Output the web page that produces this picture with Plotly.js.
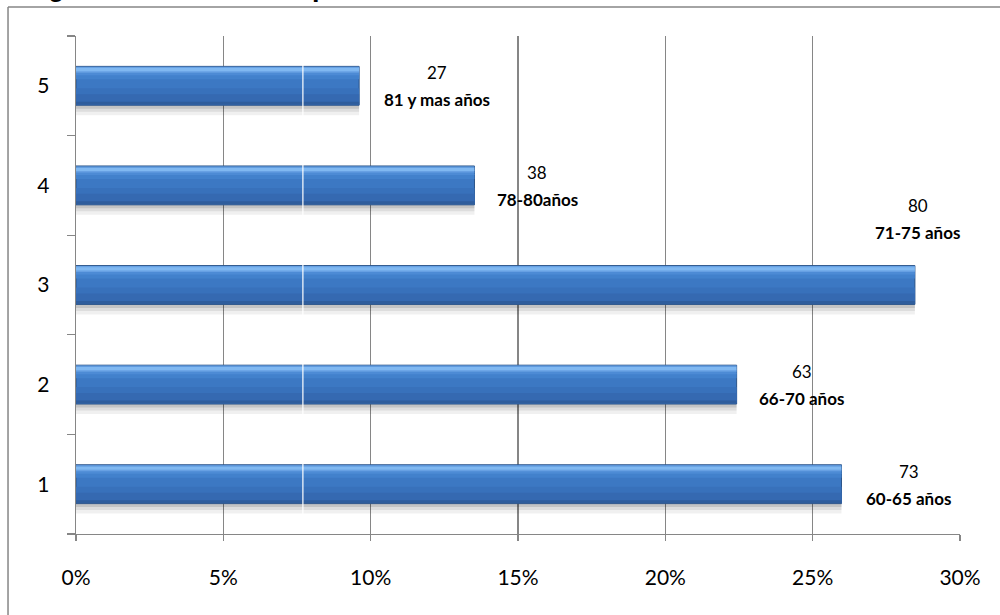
<!DOCTYPE html>
<html>
<head>
<meta charset="utf-8">
<script src="https://cdn.plot.ly/plotly-3.0.1.min.js"></script>
<style>
  html, body { margin: 0; padding: 0; background: #ffffff; }
  #chart { width: 1000px; height: 615px; }
</style>
</head>
<body>
<div id="chart"></div>
<script>
// Grupos de edad (1 = más joven, 5 = mayor) y número de pacientes en cada uno
const categorias = ["1", "2", "3", "4", "5"];
const pacientes = [73, 63, 80, 38, 27];
const rangosEdad = ["60-65 años", "66-70 años", "71-75 años", "78-80años", "81 y mas años"];
const ticksX = [0, 5, 10, 15, 20, 25, 30];
const etiquetasX = ["0%", "5%", "10%", "15%", "20%", "25%", "30%"];
const tituloFigura = "Figura 1.- Edad de los pacientes estudiados";

// Porcentaje de cada grupo sobre el total
const total = pacientes.reduce((a, b) => a + b, 0);
const porcentajes = pacientes.map(v => v / total * 100);

// Separación de cada rótulo respecto al extremo de su barra (px)
const rotuloDx = [67, 65, 3, 63, 78];
const rotuloDy = [0, 0, 67, 0, 0];

const ANCHO = 0.39;            // grosor de la barra en unidades de categoría
const BASE = -ANCHO / 2;       // borde inferior de la barra

function capa(color, offset, width, extra) {
  return Object.assign({
    type: "bar",
    orientation: "h",
    x: porcentajes,
    y: categorias,
    width: width,
    offset: offset,
    marker: { color: color, line: { width: 0 } },
    hoverinfo: "skip",
    showlegend: false
  }, extra || {});
}

const trazas = [
  // sombra difusa bajo cada barra
  capa("rgba(0,0,0,0.06)", BASE - 0.10, ANCHO),
  capa("rgba(0,0,0,0.08)", BASE - 0.065, ANCHO),
  capa("rgba(0,0,0,0.11)", BASE - 0.035, ANCHO),
  // cuerpo de la barra
  capa("#3c78c3", BASE, ANCHO, { marker: { color: "#3c78c3", line: { color: "#2d5589", width: 1 } } }),
  // degradado: zona inferior más oscura
  capa("#3871bb", BASE + 0.01, 0.16),
  capa("#3569b1", BASE + 0.01, 0.10),
  capa("#2f5d9c", BASE + 0.005, 0.03),
  // degradado: zona superior más clara
  capa("#4281cc", BASE + ANCHO - 0.13, 0.05),
  capa("#4d8bd5", BASE + ANCHO - 0.09, 0.03),
  capa("#67a0e3", BASE + ANCHO - 0.065, 0.02),
  capa("#80b8f1", BASE + ANCHO - 0.05, 0.035),
  capa("#66a1e4", BASE + ANCHO - 0.016, 0.012)
];

// Rótulos: número de pacientes y rango de edad en negrita
const anotaciones = [];
porcentajes.forEach((p, i) => {
  anotaciones.push({
    x: p, y: i, xref: "x", yref: "y",
    text: String(pacientes[i]),
    showarrow: false, xanchor: "center", yanchor: "middle",
    xshift: rotuloDx[i], yshift: rotuloDy[i] + 13,
    font: { family: "Lato, 'Liberation Sans', sans-serif", size: 17, color: "#000000" }
  });
  anotaciones.push({
    x: p, y: i, xref: "x", yref: "y",
    text: "<b>" + rangosEdad[i] + "</b>",
    showarrow: false, xanchor: "center", yanchor: "middle",
    xshift: rotuloDx[i], yshift: rotuloDy[i] - 14,
    font: { family: "Lato, 'Liberation Sans', sans-serif", size: 17, color: "#000000" }
  });
});

// Título de la figura, asomando por el borde superior de la página
anotaciones.push({
  x: -0.0607, y: 1.0643, xref: "paper", yref: "paper",
  text: "<b>" + tituloFigura + "</b>",
  showarrow: false, xanchor: "left", yanchor: "bottom",
  font: { family: "'Liberation Sans', Arial, sans-serif", size: 27, color: "#000000" }
});

const gris = "#868686";

const layout = {
  width: 1000,
  height: 615,
  margin: { l: 76, r: 40, t: 36, b: 81 },
  paper_bgcolor: "#ffffff",
  plot_bgcolor: "#ffffff",
  barmode: "overlay",
  showlegend: false,
  xaxis: {
    range: [0, 30],
    tickvals: ticksX,
    ticktext: etiquetasX,
    showgrid: true,
    gridcolor: gris,
    gridwidth: 1.3,
    zeroline: false,
    showline: true,
    linecolor: gris,
    linewidth: 1.3,
    ticks: "outside",
    ticklen: 6,
    tickcolor: gris,
    tickwidth: 1.3,
    ticklabelstandoff: 18,
    tickfont: { family: "Lato, 'Liberation Sans', sans-serif", size: 21, color: "#000000" },
    fixedrange: true
  },
  yaxis: {
    type: "category",
    categoryorder: "array",
    categoryarray: categorias,
    range: [-0.5, 4.5],
    tickson: "boundaries",
    ticks: "outside",
    ticklen: 8,
    tickcolor: gris,
    tickwidth: 1.3,
    showgrid: false,
    zeroline: false,
    showline: true,
    linecolor: gris,
    linewidth: 1.3,
    ticklabelstandoff: 21,
    tickfont: { family: "Lato, 'Liberation Sans', sans-serif", size: 21, color: "#000000" },
    fixedrange: true
  },
  annotations: anotaciones,
  shapes: [
    // marco exterior del gráfico
    { type: "line", xref: "paper", yref: "paper", x0: -0.0769, x1: -0.0769, y0: 1.0582, y1: -0.2,
      line: { color: gris, width: 1.5 } },
    { type: "line", xref: "paper", yref: "paper", x0: -0.0769, x1: 1.06, y0: 1.0582, y1: 1.0582,
      line: { color: gris, width: 1.5 } },
    // línea blanca vertical que cruza las barras
    { type: "line", xref: "x", yref: "paper", x0: 7.70, x1: 7.70, y0: 0, y1: 1, layer: "above",
      line: { color: "#ffffff", width: 1.2 } }
  ]
};

Plotly.newPlot("chart", trazas, layout, { staticPlot: true, displayModeBar: false });
</script>
</body>
</html>
